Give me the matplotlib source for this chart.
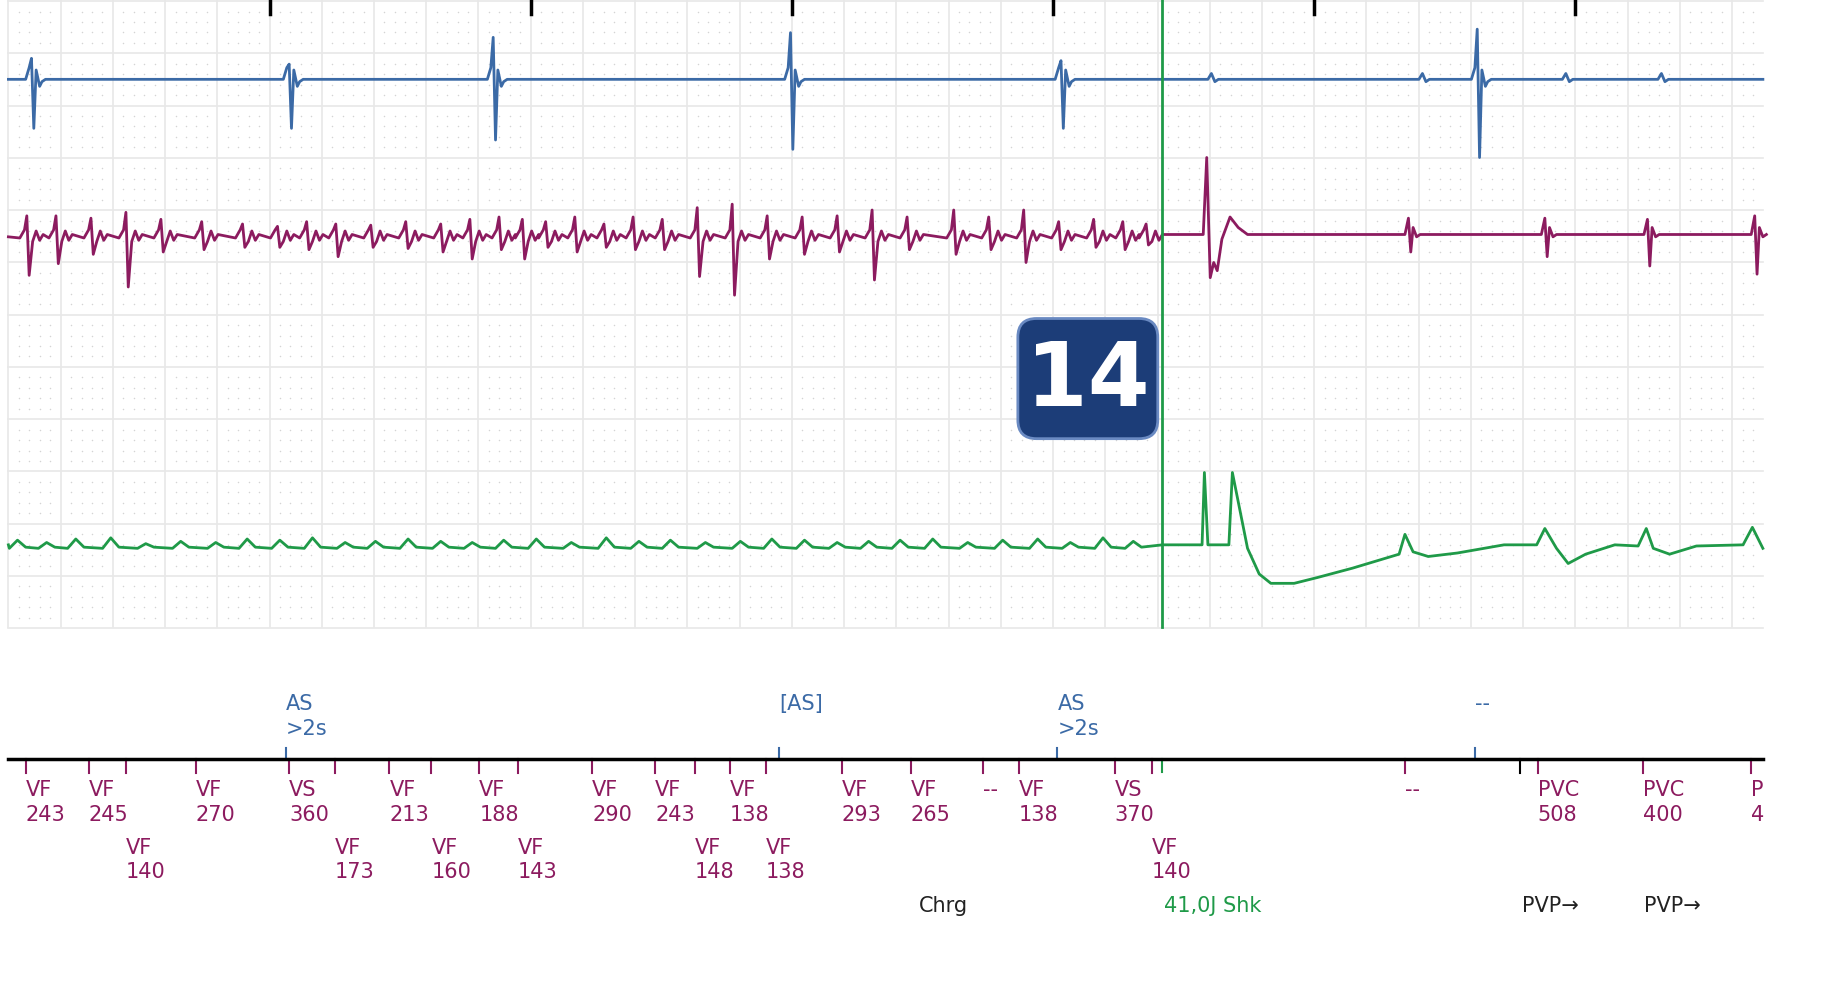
import matplotlib
matplotlib.use("Agg")
import matplotlib.pyplot as plt
import numpy as np
from matplotlib.patches import FancyBboxPatch

BLUE = "#3b6aa6"
MAG = "#8c1b5f"
GRN = "#1f9a48"

# ---- data (x positions in strip pixels) ----
blue_beat_x = [28, 249, 424, 679, 911, 1268]
blue_beat_up = [50, 55, 32, 28, 52, 25]
blue_beat_dn = [110, 110, 120, 128, 110, 135]
blue_blip_x = [1039, 1220, 1343, 1425]

mag_spike_x = [25, 50, 80, 110, 140, 175, 210, 240, 265, 290, 320, 350, 380, 405,
               430, 450, 470, 495, 520, 545, 570, 600, 630, 660, 690, 720, 750,
               780, 820, 850, 880, 910, 940, 965, 985]
mag_spike_up = [185, 185, 187, 182, 188, 190, 192, 194, 190, 192, 193, 190, 192, 188,
                186, 188, 190, 186, 192, 186, 188, 178, 175, 185, 186, 185, 180,
                186, 180, 186, 180, 190, 188, 190, 192]
mag_spike_dn = [236, 226, 218, 246, 216, 214, 212, 212, 214, 220, 212, 213, 216, 222,
                214, 222, 212, 216, 212, 214, 214, 237, 253, 222, 218, 216, 240,
                214, 218, 214, 225, 214, 212, 214, 210]
mag_post_x = [1210, 1327, 1415, 1507]
mag_post_up = [187, 187, 188, 185]
mag_post_dn = [216, 220, 228, 235]

grn_bump_x = [15, 40, 65, 95, 125, 155, 185, 212, 240, 268, 296, 322, 350, 378,
              405, 432, 460, 490, 520, 548, 575, 605, 635, 662, 690, 718, 745,
              772, 800, 830, 860, 890, 918, 946, 972]
grn_bump_y = [463, 465, 462, 461, 466, 464, 465, 462, 463, 461, 465, 464, 462, 464,
              465, 463, 462, 465, 461, 464, 463, 465, 464, 462, 463, 465, 464,
              463, 462, 465, 463, 462, 465, 461, 464]
grn_post_x = [997, 1031, 1033, 1036, 1054, 1057, 1062, 1070, 1080, 1090, 1110, 1130,
              1160, 1200, 1205, 1212, 1225, 1250, 1290, 1318, 1325, 1335, 1345, 1360,
              1385, 1405, 1412, 1418, 1432, 1455, 1495, 1503, 1512]
grn_post_y = [467, 467, 405, 467, 467, 405, 430, 470, 492, 500, 500, 495,
              487, 475, 458, 473, 477, 474, 467, 467, 453, 470, 483, 475,
              467, 468, 453, 470, 475, 468, 467, 452, 470]

as_x = [245, 668, 907, 1265]
as_lbl = ["AS\n>2s", "[AS]", "AS\n>2s", "--"]

row1_x = [22, 76, 168, 248, 334, 411, 508, 562, 626, 722, 781, 843, 874, 956, 1205, 1319, 1409, 1502]
row1_lbl = ["VF\n243", "VF\n245", "VF\n270", "VS\n360", "VF\n213", "VF\n188", "VF\n290",
            "VF\n243", "VF\n138", "VF\n293", "VF\n265", "--", "VF\n138", "VS\n370", "--",
            "PVC\n508", "PVC\n400", "P\n4"]
row2_x = [108, 287, 370, 444, 596, 657, 988]
row2_lbl = ["VF\n140", "VF\n173", "VF\n160", "VF\n143", "VF\n148", "VF\n138", "VF\n140"]
bottom_x = [788, 998, 1305, 1410]
bottom_lbl = ["Chrg", "41,0J Shk", "PVP→", "PVP→"]
bottom_col = ["#222222", GRN, "#222222", "#222222"]

W, H = 1567, 864
X0, X1, CELL = 7.2, 1512, 44.8
GB = 537.6
SHOCK_X = 997

fig = plt.figure(figsize=(18.27, 10.08), dpi=100)
ax = fig.add_axes([0, 0, 1, 1])
ax.set_xlim(0, W)
ax.set_ylim(H, 0)
ax.axis("off")

# grid
vx = np.arange(X0, X1 + 1, CELL)
hy = np.arange(0.9, GB + 1, CELL)
for x in vx:
    ax.plot([x, x], [0, GB], color="#e8e8e8", lw=1.2, zorder=1)
for y in hy:
    ax.plot([X0, X1], [y, y], color="#e8e8e8", lw=1.2, zorder=1)
mx = np.array([x + k * CELL / 5 for x in vx[:-1] for k in range(1, 5)] +
              [vx[-1] + k * CELL / 5 for k in range(1, 5) if vx[-1] + k * CELL / 5 < X1])
my = np.array([y + k * CELL / 5 for y in hy[:-1] for k in range(1, 5)])
gx, gy = np.meshgrid(mx, my)
ax.scatter(gx.ravel(), gy.ravel(), s=1.2, color="#d4d4d4", lw=0, zorder=1)
for x in vx[5::5]:
    ax.plot([x, x], [0, 12], color="black", lw=2.5, zorder=3)

# blue trace
bx, by = [X0, X1], [68, 68]
for x, u, d in zip(blue_beat_x, blue_beat_up, blue_beat_dn):
    bx += [x - 6, x - 3, x - 1, x + 1, x + 3, x + 6, x + 8, x + 11]
    by += [68, 58, u, d, 60, 74, 70, 68]
for x in blue_blip_x:
    bx += [x - 3, x, x + 3, x + 6]
    by += [68, 63, 70, 68]
order = np.argsort(bx, kind="stable")
ax.plot(np.array(bx)[order], np.array(by)[order], color=BLUE, lw=2, zorder=4)

# magenta trace
mx_, my_ = [X0], [203]
for x, u, d in zip(mag_spike_x, mag_spike_up, mag_spike_dn):
    mx_ += [x - 8, x - 4, x - 2, x, x + 3, x + 6, x + 9, x + 12]
    my_ += [204, 197, u, d, 207, 198, 206, 201]
mx_ += [SHOCK_X, 1032, 1035, 1038, 1041, 1044, 1048, 1055, 1062, 1070, 1080]
my_ += [201, 201, 135, 238, 225, 232, 205, 186, 195, 201, 201]
for x, u, d in zip(mag_post_x, mag_post_up, mag_post_dn):
    mx_ += [x - 5, x - 2, x, x + 2, x + 5, x + 8]
    my_ += [201, u, d, 195, 203, 201]
ax.plot(mx_, my_, color=MAG, lw=2, zorder=4)

# green trace
gx_, gy_ = [X0], [467]
for x, y in zip(grn_bump_x, grn_bump_y):
    gx_ += [x - 7, x, x + 7]
    gy_ += [470, y, 469]
gx_ += grn_post_x
gy_ += grn_post_y
ax.plot(gx_, gy_, color=GRN, lw=2, zorder=4)

# shock marker
ax.plot([SHOCK_X, SHOCK_X], [0, GB], color=GRN, lw=2, zorder=5)

# badge
badge = FancyBboxPatch((879, 279), 108, 91, boxstyle="round,pad=6,rounding_size=16",
                       fc="#1c3d78", ec="#6a8ac2", lw=2, zorder=6)
ax.add_patch(badge)
ax.text(933, 327, "14", color="white", fontsize=64, fontweight="bold",
        ha="center", va="center", zorder=7)

# marker channel
FS = 15
ax.plot([X0, X1], [651, 651], color="black", lw=2.5, zorder=3)
for x, t in zip(as_x, as_lbl):
    ax.plot([x, x], [641, 651], color=BLUE, lw=1.5)
    ax.text(x, 595, t, color=BLUE, fontsize=FS, va="top", ha="left", linespacing=1.3)
ax.plot([SHOCK_X, SHOCK_X], [651, 662], color=GRN, lw=1.5)
for x in row1_x + row2_x:
    ax.plot([x, x], [651, 663], color=MAG, lw=1.5)
for x, t in zip(row1_x, row1_lbl):
    ax.text(x, 669, t, color=MAG, fontsize=FS, va="top", ha="left", linespacing=1.3)
for x, t in zip(row2_x, row2_lbl):
    ax.text(x, 718, t, color=MAG, fontsize=FS, va="top", ha="left", linespacing=1.3)
ax.plot([1304, 1304], [651, 663], color="black", lw=1.5)
for x, t, c in zip(bottom_x, bottom_lbl, bottom_col):
    ax.text(x, 777, t, color=c, fontsize=FS, va="center", ha="left")

fig.savefig("out.png", dpi=100, facecolor="white")
